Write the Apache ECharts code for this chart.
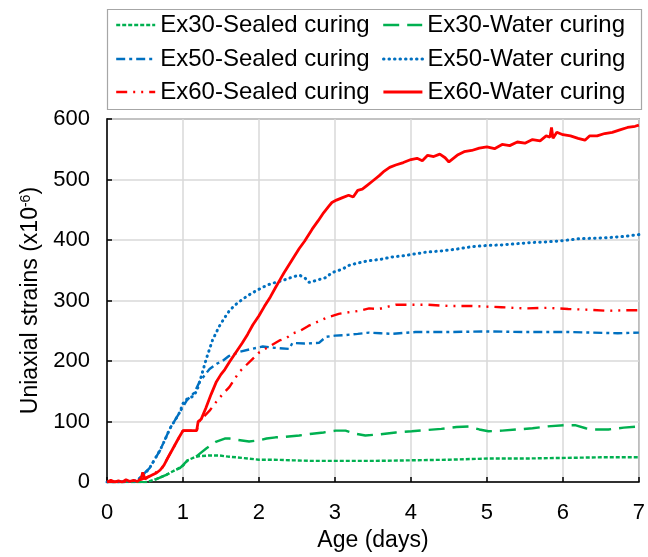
<!DOCTYPE html>
<html>
<head>
<meta charset="utf-8">
<script src="https://cdn.jsdelivr.net/npm/echarts@6/dist/echarts.min.js"></script>
<style>html,body{margin:0;padding:0;background:#fff}#c{width:648px;height:557px}</style>
</head>
<body>
<div id="c"></div>
<script>
const seriesNames = ['Ex30-Sealed curing','Ex30-Water curing','Ex50-Sealed curing','Ex50-Water curing','Ex60-Sealed curing','Ex60-Water curing'];
const xTicks = [0,1,2,3,4,5,6,7];
const yTicks = [0,100,200,300,400,500,600];

// [age (days), strain (x10^-6)]
const ex30Sealed = [[0,0],[0.52,0],[0.65,5],[0.78,12],[0.9,20],[1.0,27],[1.06,36],[1.15,41],[1.22,43],[1.35,44],[1.48,44],[1.6,42],[1.7,41],[1.85,39],[2.0,37],[2.2,37],[2.44,36],[2.7,35],[3.0,35],[3.14,35],[3.5,35],[4.01,36],[4.5,37],[5.02,39],[5.5,39],[6.03,40],[6.5,41],[7.0,41]];
const ex30Water = [[0,0],[0.52,0],[0.65,5],[0.78,12],[0.9,20],[0.96,23],[1.06,36],[1.18,43],[1.31,56],[1.44,67],[1.55,72],[1.61,72],[1.7,70],[1.87,67],[2.0,69],[2.1,72],[2.22,74],[2.35,75],[2.53,77],[2.7,80],[2.85,82],[3.01,85],[3.14,85],[3.27,80],[3.4,77],[3.6,79],[3.8,82],[4.01,84],[4.2,86],[4.4,88],[4.6,91],[4.76,92],[4.9,87],[5.02,84],[5.2,85],[5.4,87],[5.6,89],[5.8,92],[6.03,94],[6.16,94],[6.3,89],[6.42,87],[6.6,87],[6.8,90],[7.0,92]];
const ex50Sealed = [[0,0],[0.39,2],[0.56,23],[0.7,53],[0.83,89],[0.96,116],[1.05,135],[1.15,148],[1.22,166],[1.35,187],[1.45,196],[1.52,200],[1.6,208],[1.74,215],[1.9,220],[2.05,224],[2.2,222],[2.4,220],[2.44,230],[2.6,229],[2.79,230],[2.88,240],[3.0,242],[3.14,243],[3.3,245],[3.45,247],[3.6,246],[3.75,245],[4.06,248],[4.5,248],[4.98,249],[5.5,248],[6.07,248],[6.4,247],[6.72,246],[7.0,247]];
const ex50Water = [[0,0],[0.2,0],[0.39,2],[0.47,10],[0.56,23],[0.63,38],[0.7,53],[0.77,72],[0.83,89],[0.9,103],[0.96,116],[1.0,130],[1.05,137],[1.12,141],[1.18,150],[1.22,166],[1.31,205],[1.39,235],[1.48,258],[1.55,272],[1.61,283],[1.68,292],[1.74,298],[1.85,308],[1.96,316],[2.05,322],[2.14,327],[2.22,330],[2.31,333],[2.42,338],[2.53,342],[2.6,338],[2.66,330],[2.72,332],[2.8,335],[2.88,338],[2.96,346],[3.1,352],[3.18,358],[3.3,362],[3.45,366],[3.6,368],[3.75,372],[3.9,374],[4.0,376],[4.2,380],[4.4,382],[4.6,385],[4.8,389],[5.0,391],[5.2,392],[5.4,394],[5.6,396],[5.8,397],[6.0,399],[6.2,402],[6.4,403],[6.6,404],[6.8,406],[7.0,409]];
const ex60Sealed = [[0,0],[0.3,1],[0.45,4],[0.6,12],[0.73,24],[0.87,56],[1.0,85],[1.18,85],[1.21,100],[1.35,118],[1.44,133],[1.52,145],[1.61,157],[1.74,182],[1.83,193],[2.0,214],[2.15,225],[2.27,234],[2.36,238],[2.45,246],[2.53,249],[2.65,258],[2.79,266],[2.9,272],[3.05,278],[3.2,281],[3.32,283],[3.45,287],[3.58,286],[3.7,290],[3.8,293],[4.0,293],[4.23,293],[4.5,291],[4.8,291],[5.19,289],[5.5,287],[5.8,288],[6.07,286],[6.3,285],[6.59,283],[6.8,284],[7.0,284]];
const ex60Water = [[0,0],[0.05,3],[0.1,0],[0.15,2],[0.2,0],[0.25,4],[0.3,1],[0.35,3],[0.4,1],[0.45,6],[0.47,16],[0.5,5],[0.55,9],[0.6,12],[0.65,15],[0.7,20],[0.75,28],[0.8,40],[0.87,56],[0.94,72],[1.0,85],[1.18,85],[1.2,100],[1.24,104],[1.3,122],[1.37,145],[1.44,166],[1.5,178],[1.55,186],[1.62,200],[1.7,215],[1.78,230],[1.85,244],[1.92,260],[2.0,275],[2.07,290],[2.15,306],[2.22,322],[2.27,333],[2.33,346],[2.4,360],[2.47,374],[2.53,386],[2.6,398],[2.7,418],[2.78,432],[2.85,445],[2.92,456],[2.96,462],[3.02,466],[3.1,470],[3.18,474],[3.24,471],[3.3,482],[3.36,484],[3.42,490],[3.5,498],[3.58,506],[3.65,514],[3.72,520],[3.8,524],[3.9,528],[4.0,533],[4.08,535],[4.15,531],[4.22,540],[4.3,538],[4.38,542],[4.45,536],[4.5,529],[4.55,534],[4.62,541],[4.7,546],[4.8,548],[4.9,552],[5.0,554],[5.1,551],[5.2,558],[5.3,556],[5.4,562],[5.5,560],[5.6,566],[5.7,564],[5.78,572],[5.83,570],[5.85,586],[5.87,568],[5.92,578],[6.0,574],[6.1,572],[6.2,568],[6.29,565],[6.35,572],[6.45,572],[6.55,576],[6.65,578],[6.75,582],[6.85,586],[6.95,588],[7.0,590]];

const seriesData = [ex30Sealed, ex30Water, ex50Sealed, ex50Water, ex60Sealed, ex60Water];
const colors = ['#00B050','#00B050','#0070C0','#0070C0','#FF0000','#FF0000'];
const dashes = [[4,2],[16,8],[9,4,3,4],[0.5,5],[11,6,2,6,2,6],'solid'];
const widths = [2.4,2.4,2.4,3,2.4,2.8];
const caps = ['butt','butt','butt','round','butt','butt'];

const FONT = '"Liberation Sans", Arial, sans-serif';
const legendPos = [[115,13],[382,13],[115,47],[382,47],[115,80],[382,80]];

const chart = echarts.init(document.getElementById('c'), null, {renderer:'canvas'});
chart.setOption({
  animation:false,
  backgroundColor:'#fff',
  graphic:[{type:'rect', shape:{x:107.5,y:9.5,width:534,height:100}, style:{fill:'none',stroke:'#A6A6A6',lineWidth:1.2}, z:0}],
  legend: seriesNames.map((n,i)=>({
    data:[n], left:legendPos[i][0], top:legendPos[i][1], padding:0,
    itemWidth:39, itemHeight:24, itemGap:6, selectedMode:false,
    itemStyle:{opacity:0},
    lineStyle:{width:widths[i], type:dashes[i], cap:caps[i], color:colors[i]},
    textStyle:{fontSize:24, color:'#000', fontFamily:FONT}
  })),
  grid:{left:107, right:6, top:119, bottom:73, show:true, borderColor:'#595959', borderWidth:1.5, backgroundColor:'transparent'},
  xAxis:{type:'value', min:0, max:7, interval:1,
    name:'Age (days)', nameLocation:'middle', nameGap:45,
    nameTextStyle:{fontSize:23, color:'#000', fontFamily:FONT},
    axisLine:{show:true, onZero:false, lineStyle:{color:'#000', width:1.5}},
    axisTick:{show:true, inside:true, length:5, lineStyle:{color:'#000', width:1.5}},
    axisLabel:{fontSize:22, color:'#000', fontFamily:FONT, margin:20, formatter:v=>xTicks.includes(v)?String(v):''},
    splitLine:{show:true, lineStyle:{color:'#D9D9D9', width:1.5}}
  },
  yAxis:{type:'value', min:0, max:600, interval:100,
    name:'Uniaxial strains (x10{sup|-6})', nameLocation:'middle', nameGap:56,
    nameTextStyle:{fontSize:23, color:'#000', fontFamily:FONT,
      rich:{sup:{fontSize:14, verticalAlign:'top', color:'#000', fontFamily:FONT}}},
    axisLine:{show:true, onZero:false, lineStyle:{color:'#000', width:1.5}},
    axisTick:{show:true, inside:true, length:5, lineStyle:{color:'#000', width:1.5}},
    axisLabel:{fontSize:22, color:'#000', fontFamily:FONT, margin:17, formatter:v=>yTicks.includes(v)?String(v):''},
    splitLine:{show:true, lineStyle:{color:'#D9D9D9', width:1.5}}
  },
  series: seriesNames.map((n,i)=>({
    name:n, type:'line', data:seriesData[i], symbol:'none', showSymbol:false,
    lineStyle:{color:colors[i], width:widths[i], type:dashes[i], cap:caps[i]},
    itemStyle:{color:colors[i]}, z: i===5?5:3
  }))
});
</script>
</body>
</html>
